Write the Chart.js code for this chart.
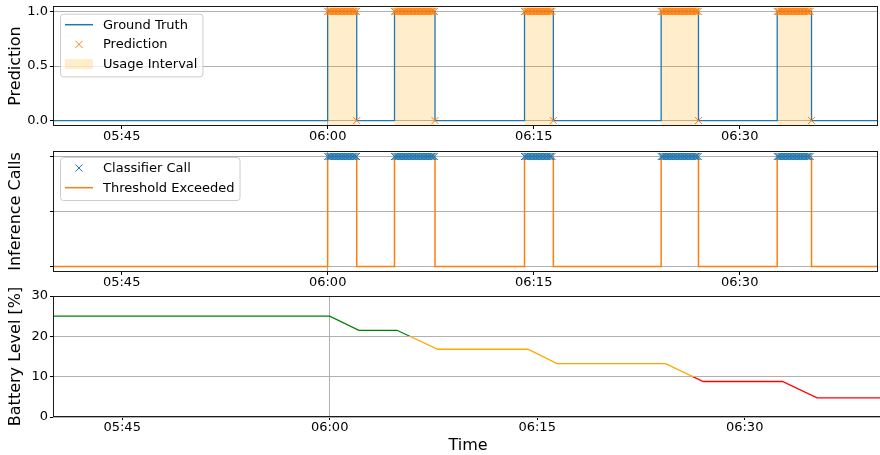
<!DOCTYPE html>
<html>
<head>
<meta charset="utf-8">
<script src="https://cdn.jsdelivr.net/npm/chart.js@4.4.1/dist/chart.umd.min.js"></script>
<style>
  html, body { margin: 0; padding: 0; background: #fff; overflow: hidden; width: 880px; height: 455px; }
  canvas { position: absolute; left: 0; }
</style>
</head>
<body>
<canvas id="predCanvas" width="883" height="145" style="top:0px"></canvas>
<canvas id="callsCanvas" width="883" height="145" style="top:145px"></canvas>
<canvas id="batteryCanvas" width="883" height="177" style="top:278px"></canvas>
<script>
// ---------- data ----------
const timeRange = ['05:40:00', '06:40:00'];
const timeTickLabels = ['05:45', '06:00', '06:15', '06:30'];
const referenceTime = '06:00';

// usage intervals (ground truth = 1 inside, 0 outside)
const usageStarts = ['06:00:00', '06:04:52', '06:14:20', '06:24:17', '06:32:44'];
const usageEnds   = ['06:02:07', '06:07:49', '06:16:26', '06:27:00', '06:35:14'];
// classifier is polled at a fixed cadence while the threshold is exceeded
const samplePeriodSec = 6;

const predTickValues = [0, 0.5, 1];
const callTickValues = [0, 0.5, 1];

const batteryTimes  = ['05:40:00', '06:00:00', '06:02:07', '06:04:52', '06:07:49', '06:14:20',
                       '06:16:26', '06:24:17', '06:27:00', '06:32:44', '06:35:14', '06:40:00'];
const batteryLevels = [25, 25, 21.5, 21.5, 16.8, 16.8, 13.25, 13.25, 8.8, 8.8, 4.75, 4.75];
const batteryTickValues = [0, 10, 20, 30];
const batteryThresholds = [20, 10];
const batteryColors = ['#008000', '#ffa500', '#ff0000'];

// ---------- helpers ----------
const FONT = "'DejaVu Sans', 'Liberation Sans', sans-serif";
const BLUE = '#1f77b4';
const ORANGE = '#ff7f0e';
const SPAN_FILL = 'rgba(255,165,0,0.2)';
const GRID = '#b0b0b0';

function toMin(s) {
  const p = s.split(':').map(Number);
  return p[0] * 60 + p[1] + (p[2] || 0) / 60;
}
function fmtTime(v) {
  const t = Math.round(v);
  const h = Math.floor(t / 60), m = t % 60;
  return String(h).padStart(2, '0') + ':' + String(m).padStart(2, '0');
}

const starts = usageStarts.map(toMin);
const ends = usageEnds.map(toMin);
const tMin = toMin(timeRange[0]);
const tMax = toMin(timeRange[1]);

function stepSeries() {
  const pts = [{ x: tMin, y: 0 }];
  starts.forEach((s, i) => { pts.push({ x: s, y: 1 }); pts.push({ x: ends[i], y: 0 }); });
  pts.push({ x: tMax, y: 0 });
  return pts;
}
function sampledOnes() {
  const pts = [];
  const step = samplePeriodSec / 60;
  starts.forEach((s, i) => {
    for (let t = s; t < ends[i] - 1e-9; t += step) pts.push({ x: t, y: 1 });
  });
  return pts;
}
const predictionPoints = sampledOnes().concat(ends.map(e => ({ x: e, y: 0 })));
const classifierPoints = sampledOnes();
const batteryPoints = batteryTimes.map((t, i) => ({ x: toMin(t), y: batteryLevels[i] }));

// ---------- plugins ----------
const usageSpans = {
  id: 'usageSpans',
  beforeDatasetsDraw(chart, args, opts) {
    if (!opts.show) return;
    const { ctx, chartArea: a, scales: { x } } = chart;
    ctx.save();
    ctx.beginPath(); ctx.rect(a.left, a.top, a.right - a.left, a.bottom - a.top); ctx.clip();
    ctx.fillStyle = SPAN_FILL;
    starts.forEach((s, i) => {
      const x0 = x.getPixelForValue(s), x1 = x.getPixelForValue(ends[i]);
      ctx.fillRect(x0, a.top, x1 - x0, a.bottom - a.top);
    });
    ctx.restore();
  }
};

const frame = {
  id: 'frame',
  afterDraw(chart) {
    const { ctx, chartArea: a } = chart;
    ctx.save();
    ctx.strokeStyle = '#1a1a1a';
    ctx.lineWidth = 1;
    ctx.strokeRect(Math.round(a.left) + 0.5, Math.round(a.top) + 0.5,
                   Math.round(a.right - a.left), Math.round(a.bottom - a.top) - 1);
    ctx.restore();
  }
};

const insetLegend = {
  id: 'insetLegend',
  afterDatasetsDraw(chart, args, opts) {
    if (!opts.items) return;
    const { ctx, chartArea: a } = chart;
    ctx.save();
    ctx.font = '13px ' + FONT;
    const x0 = a.left + 7, y0 = a.top + opts.offsetY;
    const rowH = 19.7, first = 11, handle = 28;
    const textX = x0 + 5 + handle + 10;
    const textW = Math.max(...opts.items.map(it => ctx.measureText(it.label).width));
    const w = textX + textW + 5 - x0;
    const h = first + (opts.items.length - 1) * rowH + 12.3;
    ctx.beginPath();
    if (ctx.roundRect) ctx.roundRect(x0 + 0.5, y0 + 0.5, w, h, 3); else ctx.rect(x0 + 0.5, y0 + 0.5, w, h);
    ctx.fillStyle = 'rgba(255,255,255,0.8)';
    ctx.fill();
    ctx.strokeStyle = '#cccccc';
    ctx.lineWidth = 1;
    ctx.stroke();
    opts.items.forEach((it, i) => {
      const cy = y0 + first + i * rowH;
      const hx0 = x0 + 5, hx1 = x0 + 5 + handle, hc = (hx0 + hx1) / 2;
      if (it.kind === 'line') {
        ctx.strokeStyle = it.color; ctx.lineWidth = 1.5;
        ctx.beginPath(); ctx.moveTo(hx0, cy); ctx.lineTo(hx1, cy); ctx.stroke();
      } else if (it.kind === 'marker') {
        const r = 3.6;
        ctx.strokeStyle = it.color; ctx.lineWidth = 1;
        ctx.beginPath();
        ctx.moveTo(hc - r, cy - r); ctx.lineTo(hc + r, cy + r);
        ctx.moveTo(hc - r, cy + r); ctx.lineTo(hc + r, cy - r);
        ctx.stroke();
      } else if (it.kind === 'patch') {
        ctx.fillStyle = it.color;
        ctx.fillRect(hx0, cy - 5, handle, 10);
      }
      ctx.fillStyle = '#000';
      ctx.textBaseline = 'middle';
      ctx.textAlign = 'left';
      ctx.fillText(it.label, textX, cy + 0.5);
    });
    ctx.restore();
  }
};

// ---------- shared axis builders ----------
function noLabelPadding(s) {
  s.paddingTop = 0; s.paddingBottom = 0; s.paddingLeft = 0; s.paddingRight = 0;
}
function timeAxis(height, title) {
  return {
    type: 'linear',
    min: tMin,
    max: tMax,
    afterBuildTicks: s => { s.ticks = timeTickLabels.map(l => ({ value: toMin(l) })); },
    afterFit: s => { s.height = height; noLabelPadding(s); },
    ticks: { callback: v => fmtTime(v), font: { family: FONT, size: 13 }, color: '#000',
             padding: 0, maxRotation: 0, autoSkip: false },
    grid: {
      color: c => (c.tick && Math.abs(c.tick.value - toMin(referenceTime)) < 1e-6) ? GRID : 'rgba(0,0,0,0)',
      tickColor: '#000', tickLength: 3, lineWidth: 1
    },
    border: { display: false },
    title: title ? { display: true, text: title, font: { family: FONT, size: 16 }, color: '#000',
                     padding: { top: 0, bottom: 0 } } : { display: false }
  };
}
function valueAxis(title, min, max, tickValues, fmt) {
  return {
    type: 'linear',
    min, max,
    afterBuildTicks: s => { s.ticks = tickValues.map(v => ({ value: v })); },
    afterFit: s => { s.width = 53; noLabelPadding(s); },
    ticks: { callback: v => fmt ? fmt(v) : '', font: { family: FONT, size: 13 }, color: '#000', padding: 2 },
    grid: { color: GRID, tickColor: '#000', tickLength: 3, lineWidth: 1 },
    border: { display: false },
    title: { display: true, text: title, font: { family: FONT, size: 16 }, color: '#000',
             padding: { top: 6, bottom: 0 } }
  };
}
function baseOptions(padTop, xAxis, yAxis, pluginOpts) {
  return {
    responsive: false,
    animation: false,
    events: [],
    layout: { padding: { top: padTop, left: 0, right: 0, bottom: 0 } },
    scales: { x: xAxis, y: yAxis },
    plugins: Object.assign({ legend: { display: false }, tooltip: { enabled: false } }, pluginOpts)
  };
}

// ---------- panel 1: prediction vs ground truth ----------
new Chart(document.getElementById('predCanvas'), {
  type: 'line',
  data: {
    datasets: [
      { label: 'Prediction', data: predictionPoints, showLine: false, order: 0,
        pointStyle: 'crossRot', pointRadius: 5, pointBorderWidth: 1,
        pointBorderColor: ORANGE, pointBackgroundColor: ORANGE, borderColor: ORANGE },
      { label: 'Ground Truth', data: stepSeries(), stepped: true, order: 1,
        borderColor: BLUE, borderWidth: 1.3, pointRadius: 0, fill: false }
    ]
  },
  options: baseOptions(5, timeAxis(19, null),
    valueAxis('Prediction', -0.05, 1.05, predTickValues, v => v.toFixed(1)),
    {
      usageSpans: { show: true },
      insetLegend: { offsetY: 7.7, items: [
        { label: 'Ground Truth', kind: 'line', color: BLUE },
        { label: 'Prediction', kind: 'marker', color: ORANGE },
        { label: 'Usage Interval', kind: 'patch', color: SPAN_FILL }
      ] }
    }),
  plugins: [usageSpans, insetLegend, frame]
});

// ---------- panel 2: inference calls ----------
new Chart(document.getElementById('callsCanvas'), {
  type: 'line',
  data: {
    datasets: [
      { label: 'Classifier Call', data: classifierPoints, showLine: false, order: 0,
        pointStyle: 'crossRot', pointRadius: 5, pointBorderWidth: 1,
        pointBorderColor: BLUE, pointBackgroundColor: BLUE, borderColor: BLUE },
      { label: 'Threshold Exceeded', data: stepSeries(), stepped: true, order: 1,
        borderColor: ORANGE, borderWidth: 1.5, pointRadius: 0, fill: false }
    ]
  },
  options: baseOptions(6, timeAxis(18, null),
    valueAxis('Inference Calls', -0.05, 1.05, callTickValues, null),
    {
      insetLegend: { offsetY: 6, items: [
        { label: 'Classifier Call', kind: 'marker', color: BLUE },
        { label: 'Threshold Exceeded', kind: 'line', color: ORANGE }
      ] }
    }),
  plugins: [insetLegend, frame]
});

// ---------- panel 3: battery level ----------
function batteryStroke(context) {
  const chart = context.chart;
  const a = chart.chartArea;
  if (!a) return batteryColors[0];
  const y = chart.scales.y;
  const span = a.bottom - a.top;
  const f0 = Math.min(1, Math.max(0, (y.getPixelForValue(batteryThresholds[0]) - a.top) / span));
  const f1 = Math.min(1, Math.max(0, (y.getPixelForValue(batteryThresholds[1]) - a.top) / span));
  const g = chart.ctx.createLinearGradient(0, a.top, 0, a.bottom);
  g.addColorStop(0, batteryColors[0]);
  g.addColorStop(f0, batteryColors[0]);
  g.addColorStop(f0, batteryColors[1]);
  g.addColorStop(f1, batteryColors[1]);
  g.addColorStop(f1, batteryColors[2]);
  g.addColorStop(1, batteryColors[2]);
  return g;
}

new Chart(document.getElementById('batteryCanvas'), {
  type: 'line',
  data: {
    datasets: [
      { label: 'Battery Level', data: batteryPoints, borderColor: batteryStroke,
        borderWidth: 1.3, pointRadius: 0, fill: false, tension: 0 }
    ]
  },
  options: baseOptions(18, timeAxis(38, 'Time'),
    valueAxis('Battery Level [%]', 0, 30, batteryTickValues, v => String(v)), {}),
  plugins: [frame]
});
</script>
</body>
</html>
